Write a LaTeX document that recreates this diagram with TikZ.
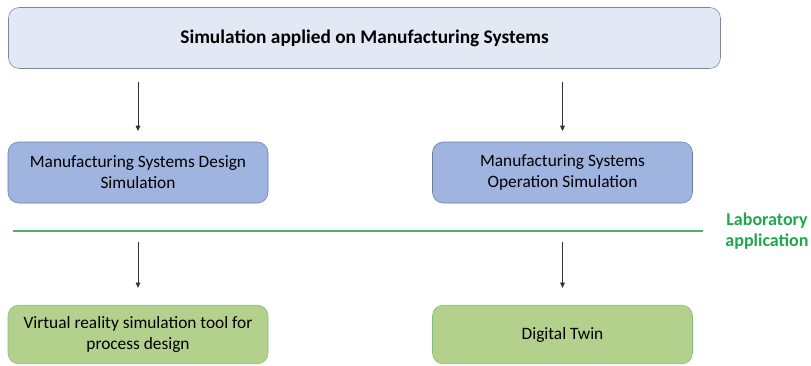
\documentclass[tikz,border=0pt]{standalone}
\usepackage{fontspec}
\setmainfont{Carlito}
\usetikzlibrary{arrows.meta}
\definecolor{topfill}{HTML}{E2E8F4}
\definecolor{topline}{HTML}{7A869C}
\definecolor{bluefill}{HTML}{A0B4E0}
\definecolor{blueline}{HTML}{6B7CA3}
\definecolor{greenfill}{HTML}{B3D18D}
\definecolor{greenline}{HTML}{7DC276}
\definecolor{labgreen}{HTML}{1EA84E}
\definecolor{labline}{HTML}{45B272}

\begin{document}
\begin{tikzpicture}[x=0.75pt,y=-0.75pt,
    box/.style={rounded corners=8pt, minimum height=45.75pt, align=center,
      inner sep=0pt, font=\fontsize{13}{15.75}\selectfont},
    topbox/.style={box, draw=topline, fill=topfill, minimum width=534pt},
    designbox/.style={box, draw=blueline, fill=bluefill, minimum width=195pt},
    labbox/.style={box, draw=greenline, fill=greenfill, minimum width=195pt,
      minimum height=44pt},
    arr/.style={draw=black!80, line width=0.6pt, -{Triangle[length=4pt,width=3.5pt]}}
    ]
    \useasboundingbox (0,0) rectangle (811,365);

    \node[topbox, font=\bfseries\fontsize{14.5}{17}\selectfont] (sim) at (364.5,38)
      {Simulation applied on Manufacturing Systems};

    \node[designbox] (msd) at (138,172.5) {Manufacturing Systems Design\\Simulation};
    \node[designbox] (mso) at (562.5,172.5) {Manufacturing Systems\\Operation Simulation};

    \node[labbox] (vr) at (138,334.5) {Virtual reality simulation tool for\\process design};
    \node[labbox] (dt) at (562.5,334.5) {Digital Twin};

    % laboratory border
    \coordinate (labl) at (13,231);
    \coordinate (labr) at (703,231);
    \draw[color=labline, line width=0.85pt] (labl) -- (labr);
    \node[text=labgreen, font=\bfseries\fontsize{13.5}{15.75}\selectfont, align=center]
      (lab) at (767,231) {Laboratory\\application};

    \draw[arr, shorten <=9.75pt, shorten >=8pt] (sim.south -| msd) -- (msd);
    \draw[arr, shorten <=9.75pt, shorten >=8pt] (sim.south -| mso) -- (mso);
    \draw[arr, shorten <=29.25pt, shorten >=12.75pt] (msd) -- (vr);
    \draw[arr, shorten <=29.25pt, shorten >=12.75pt] (mso) -- (dt);
  \end{tikzpicture}
\end{document}
